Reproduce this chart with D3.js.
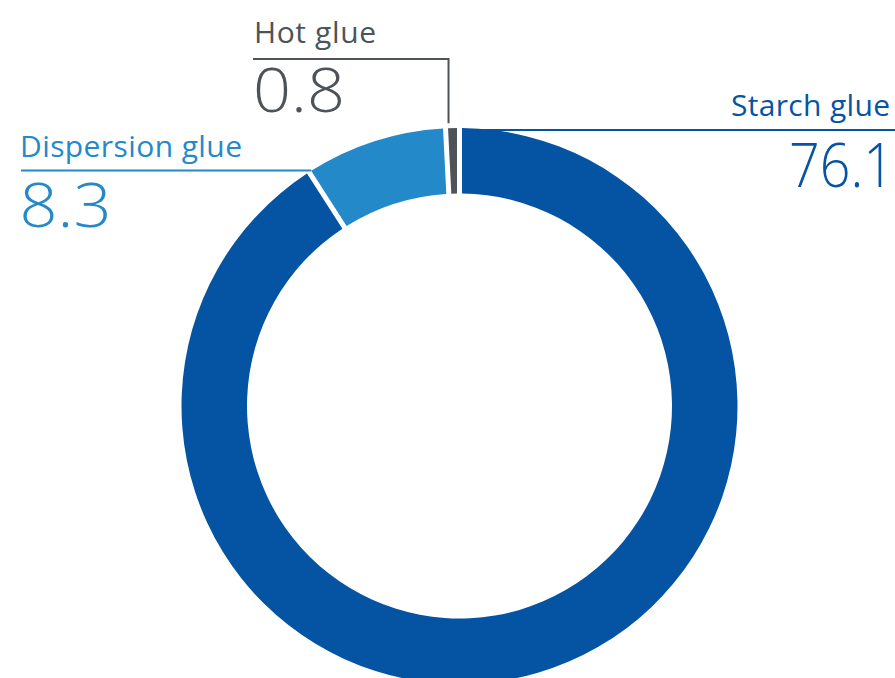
<!DOCTYPE html>
<html>
<head>
<meta charset="utf-8">
<script src="https://cdn.jsdelivr.net/npm/d3@7"></script>
<style>
  html, body { margin: 0; padding: 0; background: #fff; }
  svg { display: block; }
  text { font-family: "Open Sans", sans-serif; }
</style>
</head>
<body>
<svg id="chart" width="895" height="678"></svg>
<script>
// ---- data ----
const categories = ["Starch glue", "Dispersion glue", "Hot glue"];
const values = [76.1, 8.3, 0.8];
// arc shares (percent of the ring) as drawn in the picture
const shares = [90.9, 8.3, 0.8];
const colors = ["#0554A4", "#2389C9", "#4D5358"];

// ---- layout ----
const W = 895, H = 678;
const cx = 459.5, cy = 406;
const outerR = 278, innerR = 212.5;
const gap = 5;

const svg = d3.select("#chart");
const g = svg.append("g").attr("transform", `translate(${cx},${cy})`);

const pie = d3.pie().sort(null).value(d => d.share);
const data = categories.map((c, i) => ({ cat: c, value: values[i], share: shares[i], color: colors[i] }));
const arcs = pie(data);

const arc = d3.arc()
  .innerRadius(innerR)
  .outerRadius(outerR)
  .padRadius(outerR)
  .padAngle(gap / outerR);

g.selectAll("path.slice")
  .data(arcs)
  .enter().append("path")
  .attr("class", "slice")
  .attr("d", arc)
  .attr("fill", d => d.data.color);

function pt(a, r) { return [cx + r * Math.sin(a), cy - r * Math.cos(a)]; }
const padA = gap / outerR / 2;

// ---- labels ----
const lab = svg.append("g");
const labelSize = 30, numSize = 60;
const fmt = d3.format(".1f");

function addText(x, y, s, size, color, len, anchor, weight) {
  return lab.append("text").attr("x", x).attr("y", y)
    .attr("text-anchor", anchor || "start")
    .attr("font-size", size).attr("font-weight", weight || 400)
    .attr("fill", color)
    .attr("textLength", len).attr("lengthAdjust", "spacing")
    .text(s);
}
// big number, horizontally scaled to a target advance width
function addNum(x, y, s, color, len, anchor) {
  const grp = lab.append("g");
  const t = grp.append("text").attr("x", 0).attr("y", 0)
    .attr("text-anchor", anchor || "start")
    .attr("font-size", numSize).attr("font-weight", 300)
    .attr("fill", color).text(s);
  const nat = t.node().getComputedTextLength() || len;
  grp.attr("transform", `translate(${x},${y}) scale(${len / nat},1)`);
  return t;
}

// Starch glue (right)
{
  const a = arcs[0];
  const p = pt(a.startAngle + padA, outerR);
  const y = 130;
  lab.append("line").attr("x1", p[0]).attr("x2", 895).attr("y1", y).attr("y2", y)
    .attr("stroke", colors[0]).attr("stroke-width", 2);
  addText(890, 115.7, categories[0], labelSize, colors[0], 159, "end");
  addNum(894, 186.7, fmt(values[0]), colors[0], 105, "end");
}

// Dispersion glue (left)
{
  const a = arcs[1];
  const p = pt(a.startAngle + padA, outerR);
  const y = 170.5;
  lab.append("line").attr("x1", 21).attr("x2", p[0]).attr("y1", y).attr("y2", y)
    .attr("stroke", colors[1]).attr("stroke-width", 2);
  addText(20, 156.7, categories[1], labelSize, colors[1], 222);
  addNum(19.5, 226.7, fmt(values[1]), colors[1], 92);
}

// Hot glue (top)
{
  const a = arcs[2];
  const p = pt(a.startAngle + padA, outerR);
  const x = p[0] + 0.5;
  const yTop = 59;
  lab.append("path")
    .attr("d", `M253,${yTop}H${x}V${p[1] - 5}`)
    .attr("fill", "none").attr("stroke", colors[2]).attr("stroke-width", 2);
  addText(254, 43.3, categories[2], labelSize, colors[2], 122);
  addNum(253, 111.7, fmt(values[2]), colors[2], 92);
}
</script>
</body>
</html>
